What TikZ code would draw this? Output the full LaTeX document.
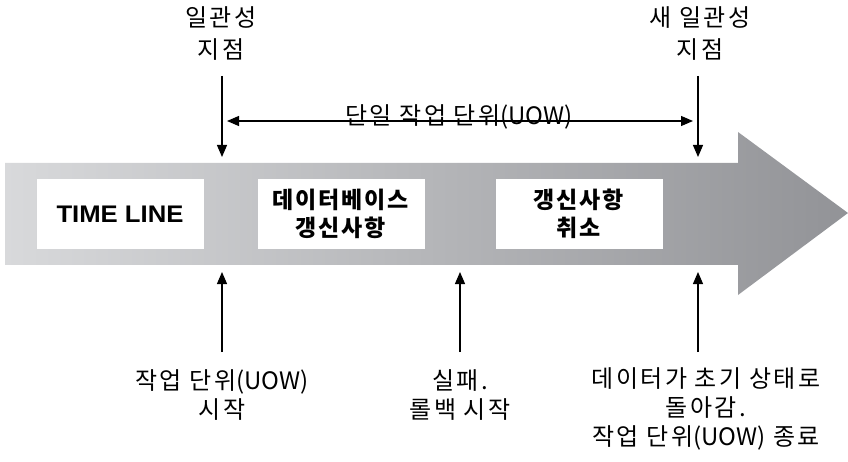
\documentclass[tikz,border=0pt]{standalone}
\usepackage{fontspec}
\setmainfont{Noto Sans CJK KR}
\newfontfamily\latinbold[FakeStretch=1.07]{Liberation Sans}
\usetikzlibrary{arrows.meta}
\definecolor{arrowL}{RGB}{216,217,219}
\definecolor{arrowR}{RGB}{146,147,151}
\newcommand{\uowtxt}{{\addfontfeature{LetterSpace=0}(UOW)}}
\tikzset{
  lbl/.style={align=center, font=\fontsize{24}{29}\selectfont\addfontfeature{LetterSpace=10}, inner sep=0pt},
  toplbl/.style={lbl, font=\fontsize{24}{32}\selectfont\addfontfeature{LetterSpace=10}},
  stagebox/.style={fill=white, minimum width=167pt, minimum height=70pt, align=center, inner sep=0pt,
    font=\fontsize{23}{28}\selectfont\bfseries\addfontfeature{LetterSpace=8}},
  tip/.tip={Triangle[length=12pt,width=10pt]},
  conn/.style={line width=1.2pt, -tip},
}
\begin{document}
\begin{tikzpicture}[x=1pt,y=-1pt]
\useasboundingbox (0,0) rectangle (848,462);
% timeline arrow
\shade[left color=arrowL, right color=arrowR]
  (5,163) -- (738,163) -- (738,132) -- (848,213) -- (738,295) -- (738,265) -- (5,265) -- cycle;
% boxes
\node[stagebox, font=\fontsize{24}{28}\selectfont\latinbold\bfseries] (tl) at (120,214) {TIME LINE};
\node[stagebox] (db) at (341,214) {데이터베이스\\갱신사항};
\node[stagebox] (undo) at (579,214) {갱신사항\\취소};
% top labels
\node[toplbl] (cp1) at (221,34) {일관성\\지점};
\node[toplbl] (cp2) at (700,34) {새 일관성\\지점};
\coordinate (d1s) at (222,76);  \coordinate (d1e) at (222,157);
\coordinate (d2s) at (698,76);  \coordinate (d2e) at (698,157);
\draw[conn] (d1s) -- (d1e);
\draw[conn] (d2s) -- (d2e);
% UOW span
\coordinate (u1) at (227,121); \coordinate (u2) at (693,121);
\draw[line width=1.2pt, tip-tip] (u1) -- (u2);
\node[lbl] (uow) at (459,117) {단일 작업 단위\uowtxt};
% bottom arrows
\coordinate (b1s) at (222,352); \coordinate (b1e) at (222,272);
\coordinate (b2s) at (460,352); \coordinate (b2e) at (460,272);
\coordinate (b3s) at (698,352); \coordinate (b3e) at (698,272);
\draw[conn] (b1s) -- (b1e);
\draw[conn] (b2s) -- (b2e);
\draw[conn] (b3s) -- (b3e);
% bottom labels
\node[lbl] (start) at (222,395) {작업 단위\uowtxt\\시작};
\node[lbl] (fail) at (460,395) {실패.\\롤백 시작};
\node[lbl] (endl) at (706,409) {데이터가 초기 상태로\\돌아감.\\작업 단위\uowtxt{} 종료};
\end{tikzpicture}
\end{document}
